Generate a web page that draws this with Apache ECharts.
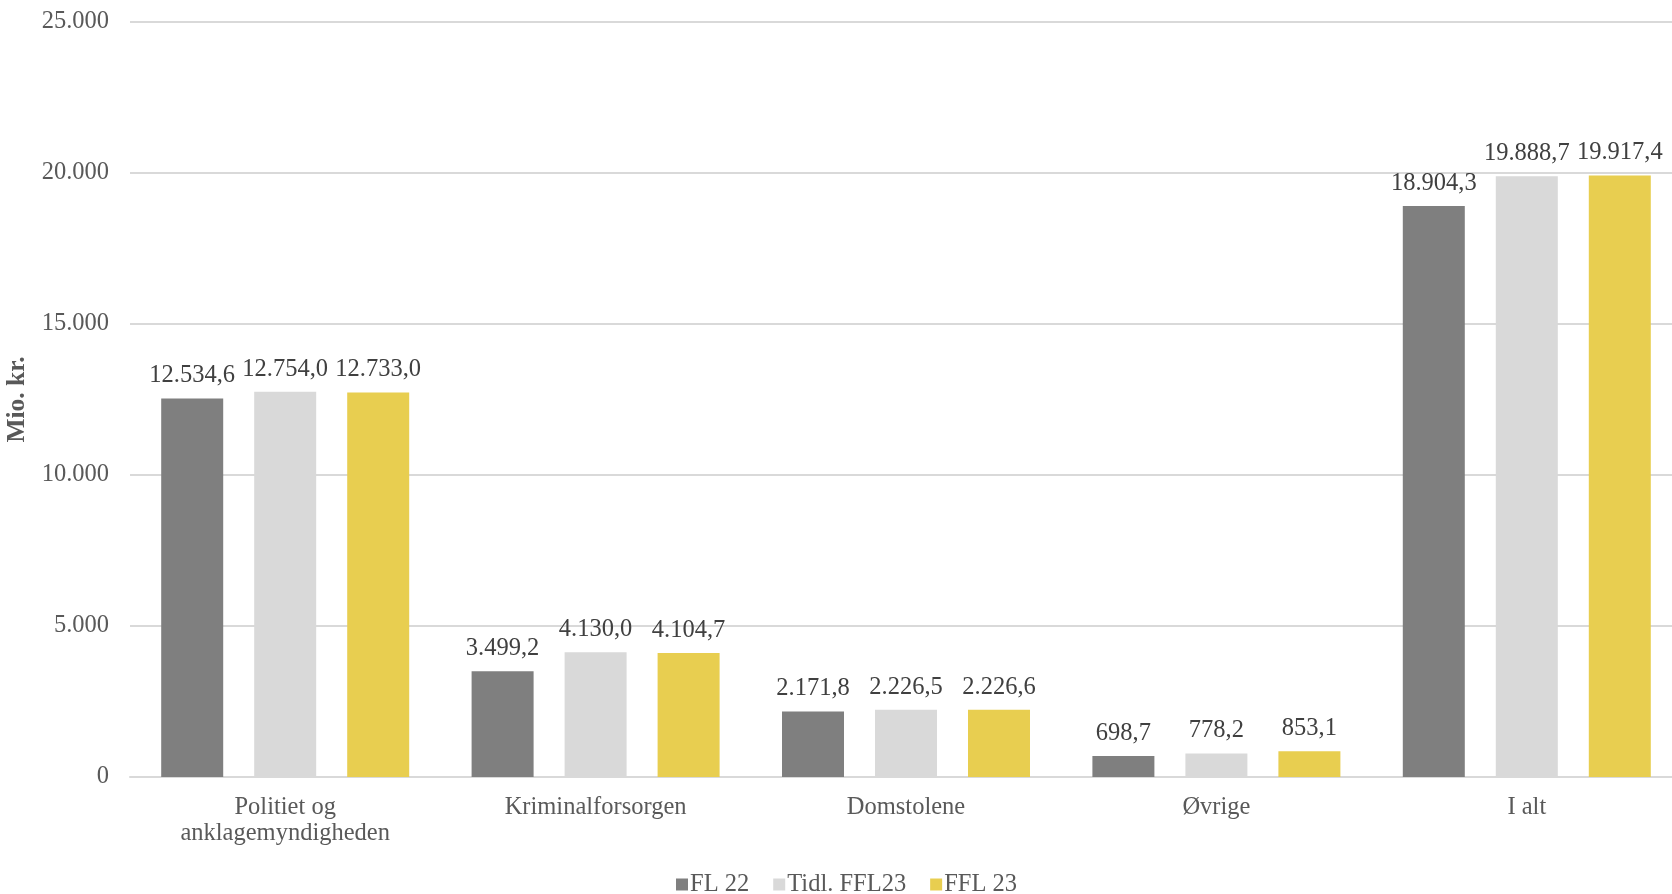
<!DOCTYPE html>
<html><head><meta charset="utf-8">
<script src="https://cdn.jsdelivr.net/npm/echarts@6/dist/echarts.min.js"></script>
<style>html,body{margin:0;padding:0;background:#fff;overflow:hidden}#c{width:1672px;height:894px}</style>
</head><body><div id="c"></div>
<script>
const categories = ['Politiet og\nanklagemyndigheden', 'Kriminalforsorgen', 'Domstolene', 'Øvrige', 'I alt'];
const seriesNames = ['FL 22', 'Tidl. FFL23', 'FFL 23'];
const fl22 = [12534.6, 3499.2, 2171.8, 698.7, 18904.3];
const tidlFfl23 = [12754.0, 4130.0, 2226.5, 778.2, 19888.7];
const ffl23 = [12733.0, 4104.7, 2226.6, 853.1, 19917.4];
const colors = ['#7f7f7f', '#d9d9d9', '#e8ce50'];
const yTicks = [0, 5000, 10000, 15000, 20000, 25000];

function fmt(v, dec) {
  const s = v.toFixed(dec);
  const parts = s.split('.');
  const intPart = parts[0].replace(/\B(?=(\d{3})+(?!\d))/g, '.');
  return parts.length > 1 ? intPart + ',' + parts[1] : intPart;
}
const font = 'Liberation Serif';
const fs = 24.5;
const chart = echarts.init(document.getElementById('c'));
const data = [fl22, tidlFfl23, ffl23];
chart.setOption({
  animation: false,
  textStyle: { fontFamily: font },
  grid: { left: 130, right: -10, top: 22, bottom: 117, containLabel: false, outerBoundsMode: 'none' },
  legend: {
    bottom: -8, left: 676, itemWidth: 12, itemHeight: 12, itemGap: 24,
    padding: [5, 0, 5, 0],
    icon: 'rect',
    textStyle: { fontFamily: font, fontSize: fs, color: '#595959', padding: [0,0,0,-3] },
    data: seriesNames
  },
  xAxis: {
    type: 'category', data: categories,
    axisLine: { lineStyle: { color: '#d9d9d9', width: 2 } },
    axisTick: { show: false },
    axisLabel: { fontFamily: font, fontSize: fs, color: '#595959', margin: 18, lineHeight: 26, interval: 0 }
  },
  yAxis: {
    type: 'value', min: yTicks[0], max: yTicks[yTicks.length - 1], interval: 5000,
    name: 'Mio. kr.', nameLocation: 'middle', nameGap: 73, nameRotate: 90,
    nameTextStyle: { fontFamily: font, fontSize: 25.5, fontWeight: 'bold', color: '#595959' },
    axisLine: { show: false }, axisTick: { show: false },
    splitLine: { lineStyle: { color: '#d9d9d9', width: 2 } },
    axisLabel: { fontFamily: font, fontSize: fs, color: '#595959', margin: 21, formatter: v => fmt(v, 0) }
  },
  series: seriesNames.map((n, i) => ({
    name: n, type: 'bar', data: data[i], barWidth: 62, barGap: '50%',
    itemStyle: { color: colors[i] },
    label: { show: true, position: 'top', distance: 10, fontFamily: font, fontSize: fs, color: '#404040',
      formatter: p => fmt(p.value, 1) }
  }))
});
</script></body></html>
